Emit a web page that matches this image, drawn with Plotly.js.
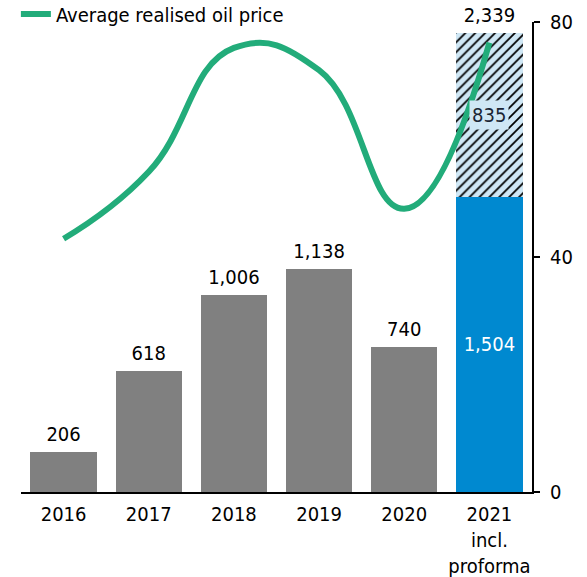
<!DOCTYPE html>
<html>
<head>
<meta charset="utf-8">
<script src="https://cdn.plot.ly/plotly-3.0.1.min.js"></script>
<style>html,body{margin:0;padding:0;background:#fff;}#chart{width:587px;height:577px;}</style>
</head>
<body>
<div id="chart"></div>
<script>
const years = ['2016', '2017', '2018', '2019', '2020', '2021<br>incl.<br>proforma'];
const production = [206, 618, 1006, 1138, 740, 1504];
const proforma = [null, null, null, null, null, 835];
const totals = [206, 618, 1006, 1138, 740, 2339];
const oilPrice = [43.1, 54.5, 75.6, 71.8, 48.2, 76.5];
const oilTicks = [0, 40, 80];

const fmt = v => v.toLocaleString('en-US');
const FONT = 'DejaVu Sans Condensed, DejaVu Sans, sans-serif';
const barColors = production.map((v, i) => i === production.length - 1 ? '#0089d0' : '#808080');
const barText = production.map((v, i) => i === production.length - 1 ? fmt(v) : '');
const last = years.length - 1;

const traces = [
  {
    type: 'bar', x: years, y: production, yaxis: 'y',
    marker: {color: barColors, line: {width: 0}},
    text: barText, textposition: 'inside', insidetextanchor: 'middle', textangle: 0,
    textfont: {color: '#ffffff', size: 20, family: FONT},
    showlegend: false, hoverinfo: 'skip'
  },
  {
    type: 'bar', x: years, y: proforma, yaxis: 'y',
    marker: {color: '#cfe7f5', line: {width: 0},
      pattern: {shape: '/', fgcolor: '#000000', bgcolor: '#cfe7f5', size: 7, solidity: 0.25}},
    showlegend: false, hoverinfo: 'skip'
  },
  {
    type: 'scatter', mode: 'markers+text', x: years, y: totals, yaxis: 'y',
    marker: {size: 8, color: 'rgba(0,0,0,0)'},
    text: totals.map(fmt), textposition: 'top center', cliponaxis: false,
    textfont: {color: '#000000', size: 20, family: FONT},
    showlegend: false, hoverinfo: 'skip'
  },
  {
    type: 'scatter', mode: 'lines', name: 'Average realised oil price',
    x: years, y: oilPrice, yaxis: 'y2',
    line: {color: '#22ac7a', width: 6, shape: 'spline', smoothing: 1.3},
    cliponaxis: false
  }
];

const layout = {
  width: 587, height: 577,
  margin: {l: 21, r: 55, t: 22, b: 85, autoexpand: false},
  paper_bgcolor: '#ffffff', plot_bgcolor: '#ffffff',
  font: {family: FONT, size: 20, color: '#000000'},
  barmode: 'stack', bargap: 0.22,
  showlegend: true,
  legend: {x: -0.01, y: 1.017, xanchor: 'left', yanchor: 'middle',
    font: {family: FONT, size: 20, color: '#000000'}, bgcolor: 'rgba(0,0,0,0)', borderwidth: 0},
  xaxis: {
    type: 'category', showline: true, linecolor: '#000000', linewidth: 2,
    ticks: '', showgrid: false, zeroline: false, tickangle: 0, automargin: false,
    ticklabelstandoff: 3,
    tickfont: {family: FONT, size: 20, color: '#000000'}
  },
  yaxis: {range: [0, 2395], visible: false, showgrid: false, zeroline: false, fixedrange: true},
  yaxis2: {
    overlaying: 'y', side: 'right', range: [0, 80], tickvals: oilTicks,
    showline: true, linecolor: '#000000', linewidth: 2, automargin: false,
    ticks: 'outside', ticklen: 6, tickwidth: 2, tickcolor: '#000000',
    showgrid: false, zeroline: false, ticklabelstandoff: 6,
    tickfont: {family: FONT, size: 20, color: '#000000'}
  },
  annotations: [{
    xref: 'x', yref: 'y', x: years[last], y: production[last] + proforma[last] / 2,
    text: fmt(proforma[last]), showarrow: false, bgcolor: '#cfe7f5',
    font: {family: FONT, size: 20, color: '#1a2533'}, borderpad: 2
  }]
};

Plotly.newPlot('chart', traces, layout, {displayModeBar: false, staticPlot: true});
</script>
</body>
</html>
